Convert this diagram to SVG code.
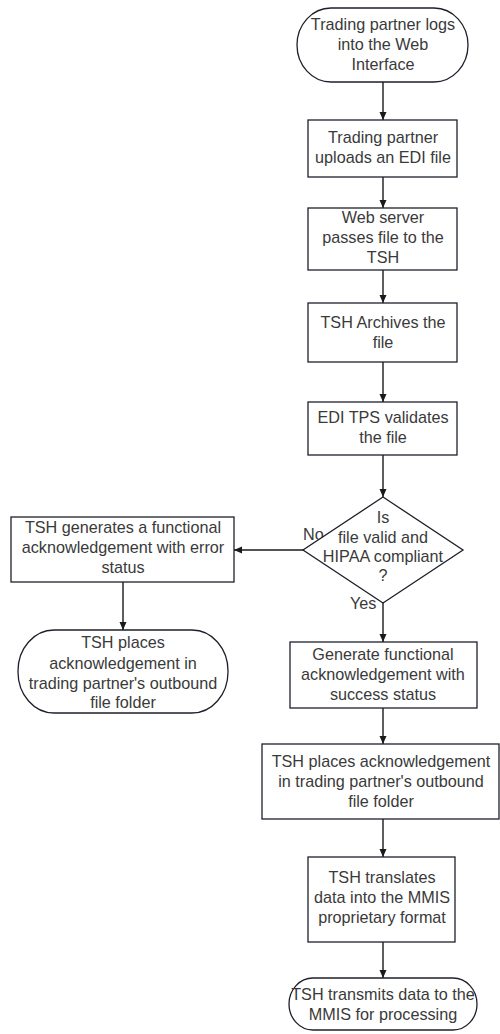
<svg xmlns="http://www.w3.org/2000/svg" width="500" height="1034" viewBox="0 0 500 1034">
  <defs>
    <marker id="arrow" viewBox="0 0 8 8" refX="8" refY="4" markerWidth="8" markerHeight="8" markerUnits="userSpaceOnUse" orient="auto">
      <path d="M0,0.5 L8,4 L0,7.5 Z" fill="#1a1a1a"/>
    </marker>
    <style>
      .shape { fill: #ffffff; stroke: #1f1f2b; stroke-width: 1.3; }
      .label { font-family: "Liberation Sans", Arial, sans-serif; font-size: 16.2px; fill: #3a3a3a; text-anchor: middle; }
      .tag { font-family: "Liberation Sans", Arial, sans-serif; font-size: 16.2px; fill: #3a3a3a; }
      .link { fill: none; stroke: #1a1a1a; stroke-width: 1.4; marker-end: url(#arrow); }
    </style>
  </defs>
  <rect width="500" height="1034" fill="#ffffff"/>

  <!-- connectors -->
  <g id="connectors">
    <line class="link" x1="383" y1="82" x2="383" y2="120"/>
    <line class="link" x1="383" y1="177" x2="383" y2="208"/>
    <line class="link" x1="383" y1="270" x2="383" y2="303"/>
    <line class="link" x1="383" y1="362" x2="383" y2="402"/>
    <line class="link" x1="383" y1="455" x2="383" y2="497"/>
    <line class="link" x1="303" y1="550" x2="234" y2="550"/>
    <line class="link" x1="123" y1="582" x2="123" y2="630"/>
    <line class="link" x1="383" y1="603" x2="383" y2="642"/>
    <line class="link" x1="383" y1="708" x2="383" y2="744"/>
    <line class="link" x1="383" y1="819" x2="383" y2="857"/>
    <line class="link" x1="383" y1="942" x2="383" y2="978"/>
    <text class="tag" x="303" y="540">No</text>
    <text class="tag" x="350" y="609">Yes</text>
  </g>

  <g id="login">
    <rect class="shape" x="297" y="8" width="171" height="74" rx="34" ry="37"/>
    <text class="label" x="383" y="30">Trading partner logs</text>
    <text class="label" x="383" y="50">into the Web</text>
    <text class="label" x="383" y="70">Interface</text>
  </g>

  <g id="upload">
    <rect class="shape" x="308" y="120" width="149" height="57"/>
    <text class="label" x="383" y="143">Trading partner</text>
    <text class="label" x="383" y="163">uploads an EDI file</text>
  </g>

  <g id="pass">
    <rect class="shape" x="308" y="208" width="149" height="62"/>
    <text class="label" x="383" y="223">Web server</text>
    <text class="label" x="383" y="243">passes file to the</text>
    <text class="label" x="383" y="263">TSH</text>
  </g>

  <g id="archive">
    <rect class="shape" x="308" y="303" width="149" height="59"/>
    <text class="label" x="383" y="328">TSH Archives the</text>
    <text class="label" x="383" y="348">file</text>
  </g>

  <g id="validate">
    <rect class="shape" x="308" y="402" width="149" height="53"/>
    <text class="label" x="383" y="423">EDI TPS validates</text>
    <text class="label" x="383" y="443">the file</text>
  </g>

  <g id="decision">
    <polygon class="shape" points="383,497 463,550 383,603 303,550"/>
    <text class="label" x="383" y="523">Is</text>
    <text class="label" x="383" y="543">file valid and</text>
    <text class="label" x="383" y="562">HIPAA compliant</text>
    <text class="label" x="383" y="581">?</text>
  </g>

  <g id="error-ack">
    <rect class="shape" x="11" y="517" width="223" height="65"/>
    <text class="label" x="123" y="533">TSH generates a functional</text>
    <text class="label" x="123" y="553">acknowledgement with error</text>
    <text class="label" x="123" y="573">status</text>
  </g>

  <g id="error-place">
    <rect class="shape" x="18" y="630" width="210" height="83" rx="36" ry="41"/>
    <text class="label" x="123" y="648">TSH places</text>
    <text class="label" x="123" y="669">acknowledgement in</text>
    <text class="label" x="123" y="689">trading partner's outbound</text>
    <text class="label" x="123" y="708">file folder</text>
  </g>

  <g id="success-ack">
    <rect class="shape" x="290" y="642" width="187" height="66"/>
    <text class="label" x="383" y="660">Generate functional</text>
    <text class="label" x="383" y="680">acknowledgement with</text>
    <text class="label" x="383" y="700">success status</text>
  </g>

  <g id="success-place">
    <rect class="shape" x="262" y="744" width="237" height="75"/>
    <text class="label" x="381" y="767">TSH places acknowledgement</text>
    <text class="label" x="381" y="787">in trading partner's outbound</text>
    <text class="label" x="381" y="807">file folder</text>
  </g>

  <g id="translate">
    <rect class="shape" x="308" y="857" width="147" height="85"/>
    <text class="label" x="382" y="883">TSH translates</text>
    <text class="label" x="382" y="903">data into the MMIS</text>
    <text class="label" x="382" y="923">proprietary format</text>
  </g>

  <g id="transmit">
    <rect class="shape" x="289" y="978" width="188" height="52" rx="24" ry="26"/>
    <text class="label" x="383" y="1000">TSH transmits data to the</text>
    <text class="label" x="383" y="1020">MMIS for processing</text>
  </g>
</svg>
